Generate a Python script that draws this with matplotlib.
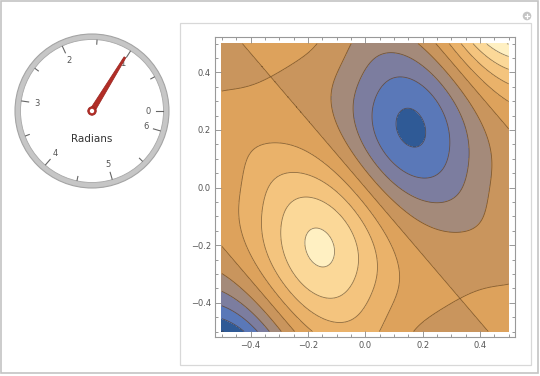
import numpy as np
import matplotlib
matplotlib.use("Agg")
import matplotlib.pyplot as plt
from matplotlib.patches import Circle, Rectangle, Polygon
from matplotlib.ticker import MultipleLocator

# ---- gauge ----
gauge_value = 1.02                      # needle, radians
gauge_major = [0, 1, 2, 3, 4, 5, 6]
gauge_minor = [0.5, 1.5, 2.5, 3.5, 4.5, 5.5]
gauge_title = "Radians"

# ---- contour plot ----
low_center = [0.154, 0.214]             # blue basin, the yellow peak sits at the mirror point
saddle_center = [0.33, -0.385]          # crossing of the contour lines (mirrored top-left)
peak_height = 0.84
saddle_twist = -0.21                    # turns the second line through each saddle
contour_levels = [-1.0, -0.8, -0.6, -0.4, -0.2, 0.0, 0.2, 0.4, 0.6, 0.8, 1.0]
band_colors = ['#1f4379', '#2f5a96', '#5a78b8', '#7c7d9f', '#a48a7a', '#c9955d',
               '#dda25c', '#eab26a', '#f4c47e', '#fbd898', '#fff0c2', '#fffadc']
axis_ticks = [-0.4, -0.2, 0.0, 0.2, 0.4]


def field(x, y):
    # skewed coords: s = +-1 at basin / peak, t = +-1 at the saddles
    m = np.array([[low_center[0], saddle_center[0]],
                  [low_center[1], saddle_center[1]]])
    inv = np.linalg.inv(m)
    s = inv[0, 0] * x + inv[0, 1] * y
    t = inv[1, 0] * x + inv[1, 1] * y
    along = np.sin(np.pi * s / 2) * (1 + 0.012 * (s ** 2 - 1) ** 2)
    across = (1 - t ** 2) / (1 + 2 * t ** 2)
    return -peak_height * along * across + saddle_twist * s ** 2 * t * np.exp(-s ** 4)


W, H = 540, 376
fig = plt.figure(figsize=(W / 100, H / 100), dpi=100)
fig.patch.set_facecolor('white')

# panel frames, in pixel coords
bg = fig.add_axes([0, 0, 1, 1], zorder=-1)
bg.set_xlim(0, W)
bg.set_ylim(H, 0)
bg.axis('off')
bg.add_patch(Rectangle((1, 1), 537, 372, fill=False, ec='#c4c4c4', lw=1.2))
bg.add_patch(Rectangle((180, 23), 351, 342, fill=False, ec='#d8d8d8', lw=0.9))
bg.add_patch(Circle((527, 16), 4.3, fc='#c4c4c4', ec='none'))
bg.plot([524.6, 529.4], [16, 16], color='white', lw=0.9)
bg.plot([527, 527], [13.6, 18.4], color='white', lw=0.9)

# ---- gauge ----
cx, cy, half = 92, 111, 80
gax = fig.add_axes([(cx - half) / W, 1 - (cy + half) / H, 2 * half / W, 2 * half / H])
gax.set_xlim(-half, half)
gax.set_ylim(-half, half)
gax.set_aspect('equal')
gax.axis('off')

gax.add_patch(Circle((0, 0), 77, fc='#c6c6c6', ec='#a4a4a4', lw=0.8))
gax.add_patch(Circle((0, 0), 71.5, fc='white', ec='#a8a8a8', lw=0.6))

for v in gauge_major:
    a = v  # radians, counterclockwise from the right
    gax.plot([71 * np.cos(a), 64 * np.cos(a)], [71 * np.sin(a), 64 * np.sin(a)],
             color='#666666', lw=0.8)
    gax.text(56 * np.cos(a), 56 * np.sin(a), str(v), ha='center', va='center',
             fontsize=6, color='#555555')
for v in gauge_minor:
    gax.plot([71 * np.cos(v), 67 * np.cos(v)], [71 * np.sin(v), 67 * np.sin(v)],
             color='#666666', lw=0.8)

gax.text(0, -28, gauge_title, ha='center', va='center', fontsize=7.5, color='#333333')

# needle
a = gauge_value
d = np.array([np.cos(a), np.sin(a)])
n = np.array([-np.sin(a), np.cos(a)])
tip = 63 * d
needle = Polygon([2.6 * n, tip + 1.0 * n, tip - 1.0 * n, -2.6 * n],
                 closed=True, fc='#b22d26', ec='#9a2520', lw=0.5, zorder=5)
gax.add_patch(needle)
gax.add_patch(Circle((0, 0), 4.3, fc='#b22d26', ec='#9a2520', lw=0.5, zorder=6))
gax.add_patch(Circle((0, 0), 2.2, fc='white', ec='none', zorder=7))

# ---- contour plot ----
ax = fig.add_axes([215 / W, 1 - 336.7 / H, 300 / W, 299.4 / H])
xs = np.linspace(-0.5, 0.5, 401)
X, Y = np.meshgrid(xs, xs)
Z = field(X, Y)
ax.contourf(X, Y, Z, levels=[-5] + contour_levels + [5], colors=band_colors)
ax.contour(X, Y, Z, levels=contour_levels, colors='#4a3015', linewidths=0.6,
           alpha=0.6, linestyles='solid')

ax.set_xlim(-0.524, 0.522)
ax.set_ylim(-0.518, 0.522)
ax.set_xticks(axis_ticks)
ax.set_yticks(axis_ticks)
ax.xaxis.set_minor_locator(MultipleLocator(0.05))
ax.yaxis.set_minor_locator(MultipleLocator(0.05))
ax.tick_params(which='both', direction='in', top=True, right=True, color='#888888',
               width=0.6, labelsize=6, labelcolor='#555555', pad=3)
ax.tick_params(which='major', length=4)
ax.tick_params(which='minor', length=2)
for sp in ax.spines.values():
    sp.set_color('#999999')
    sp.set_linewidth(0.8)

fig.savefig('out.png', dpi=100)
